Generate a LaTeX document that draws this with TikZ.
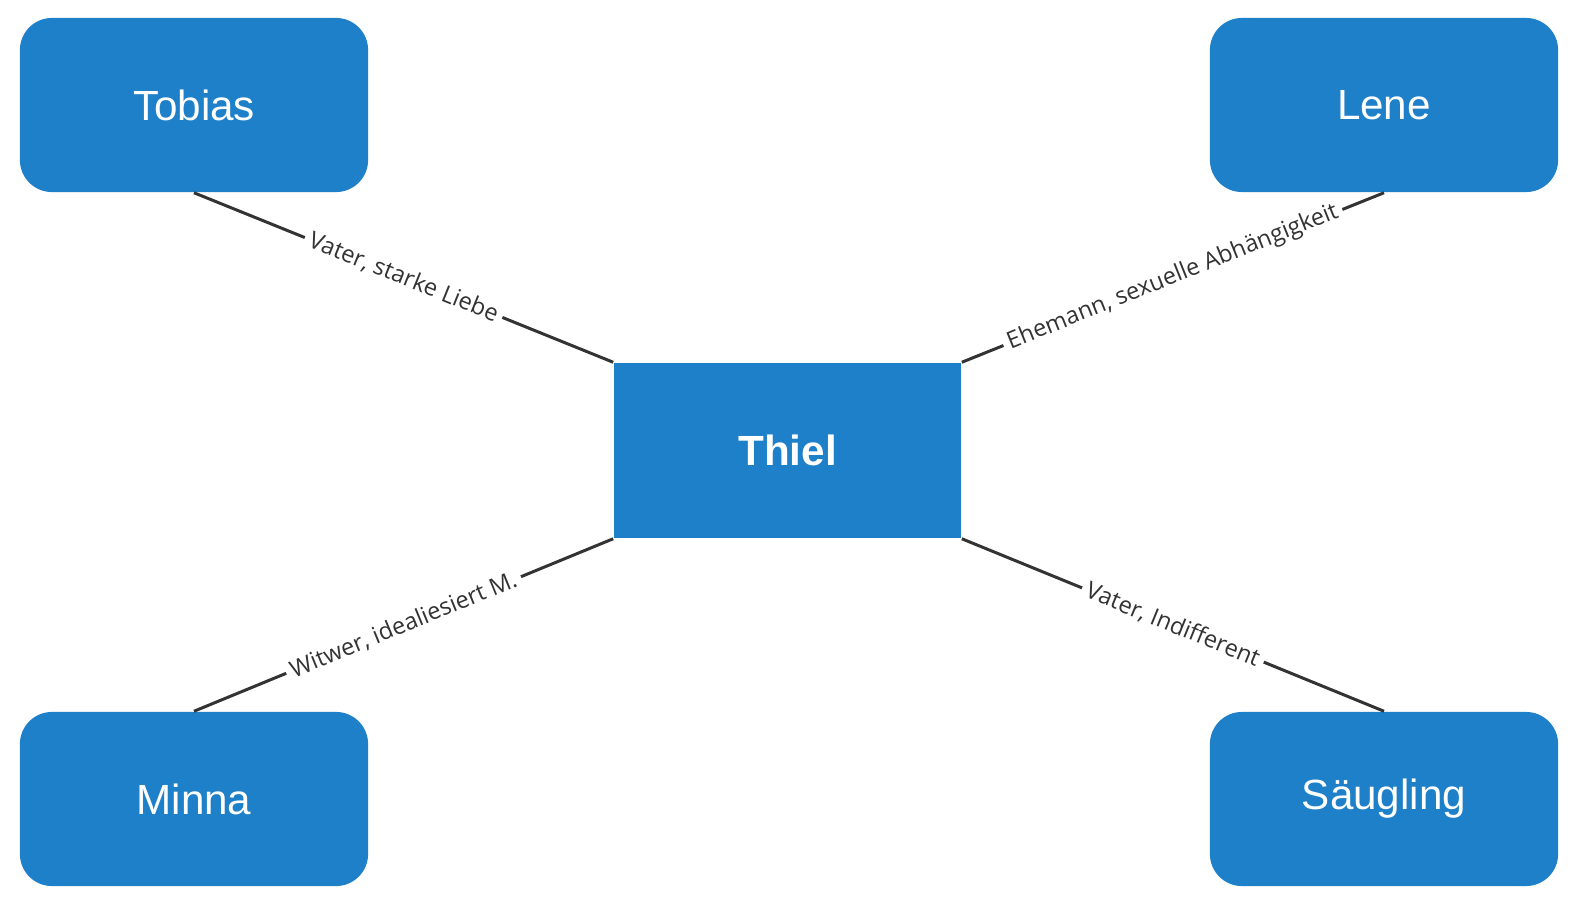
\documentclass[tikz,border=0pt]{standalone}
\usepackage{fontspec}
\setmainfont{Liberation Sans}
\newfontfamily\labelfont{Open Sans}
\usetikzlibrary{positioning}
\definecolor{boxblue}{HTML}{1E80C8}
\definecolor{linegray}{HTML}{333333}
\begin{document}
\begin{tikzpicture}
            [
                x=0.01cm, y=-0.01cm,
                person/.style={rectangle, rounded corners=0.32cm, fill=boxblue, text=white,
                    minimum width=3.48cm, minimum height=1.74cm, font=\fontsize{12pt}{14pt}\selectfont},
                zentrum/.style={rectangle, fill=boxblue, text=white,
                    minimum width=3.47cm, minimum height=1.75cm, font=\bfseries\fontsize{12pt}{14pt}\selectfont},
                beziehung/.style={draw=linegray, line width=0.85pt},
                etikett/.style={midway, sloped, fill=white, text=linegray, inner sep=1.5pt,
                    font=\labelfont\fontsize{6.7pt}{8pt}\selectfont},
            ]
            \useasboundingbox (0,0) rectangle (1572,909);
            % Thiel
            \node[zentrum] (thiel) at (787.5,450.5) {Thiel};
            % Figuren
            \node[person] (tobias) at (194,105) {Tobias};
            \node[person] (lene) at (1384,105) {Lene};
            \node[person] (minna) at (194,799) {Minna};
            \node[person] (saeugling) at (1384,799) {Säugling};
            % Beziehungen
            \draw[beziehung] (tobias.south) -- node[etikett] {Vater, starke Liebe} (thiel.north west);
            \draw[beziehung] (thiel.north east) -- node[etikett] {Ehemann, sexuelle Abhängigkeit} (lene.south);
            \draw[beziehung] (minna.north) -- node[etikett] {Witwer, idealiesiert M.} (thiel.south west);
            \draw[beziehung] (thiel.south east) -- node[etikett] {Vater, Indifferent} (saeugling.north);
        \end{tikzpicture}
\end{document}
